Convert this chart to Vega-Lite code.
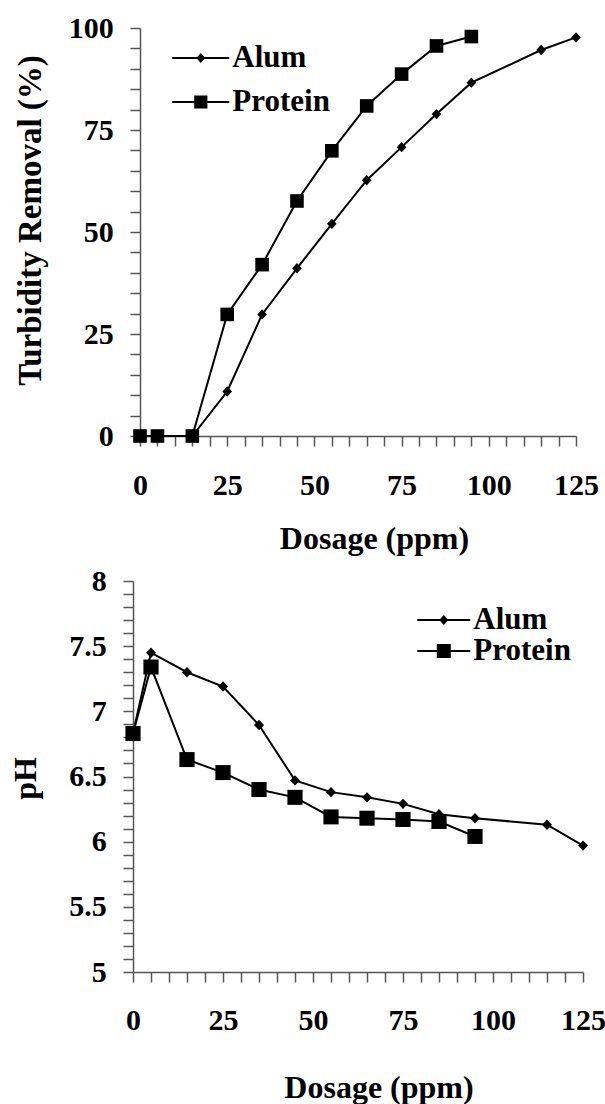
{
  "$schema": "https://vega.github.io/schema/vega-lite/v6.json",
  "background": "white",
  "padding": {"left": 9, "top": 13, "right": 5, "bottom": 5},
  "config": {
    "view": {"stroke": null},
    "font": "Liberation Serif",
    "axis": {
      "domainColor": "#555", "domainWidth": 1.5,
      "tickColor": "#555", "tickWidth": 1.5, "tickSize": 10,
      "grid": false,
      "labelFont": "Liberation Serif", "labelFontWeight": "bold", "labelFontSize": 30, "labelColor": "black",
      "labelFlush": false, "labelOverlap": false,
      "titleFont": "Liberation Serif", "titleFontWeight": "bold", "titleFontSize": 32, "titleColor": "black"
    }
  },
  "datasets": {
    "turbidity": [
      {"series": "Alum", "dosage": 0, "removal": 0},
      {"series": "Alum", "dosage": 5, "removal": 0},
      {"series": "Alum", "dosage": 15, "removal": 0},
      {"series": "Alum", "dosage": 25, "removal": 10.9},
      {"series": "Alum", "dosage": 35, "removal": 29.8},
      {"series": "Alum", "dosage": 45, "removal": 41.1},
      {"series": "Alum", "dosage": 55, "removal": 52},
      {"series": "Alum", "dosage": 65, "removal": 62.7},
      {"series": "Alum", "dosage": 75, "removal": 70.8},
      {"series": "Alum", "dosage": 85, "removal": 78.9},
      {"series": "Alum", "dosage": 95, "removal": 86.6},
      {"series": "Alum", "dosage": 115, "removal": 94.6},
      {"series": "Alum", "dosage": 125, "removal": 97.7},
      {"series": "Protein", "dosage": 0, "removal": 0},
      {"series": "Protein", "dosage": 5, "removal": 0},
      {"series": "Protein", "dosage": 15, "removal": 0},
      {"series": "Protein", "dosage": 25, "removal": 29.8},
      {"series": "Protein", "dosage": 35, "removal": 42},
      {"series": "Protein", "dosage": 45, "removal": 57.6},
      {"series": "Protein", "dosage": 55, "removal": 69.9},
      {"series": "Protein", "dosage": 65, "removal": 80.9},
      {"series": "Protein", "dosage": 75, "removal": 88.7},
      {"series": "Protein", "dosage": 85, "removal": 95.6},
      {"series": "Protein", "dosage": 95, "removal": 97.9}
    ],
    "ph": [
      {"series": "Alum", "dosage": 0, "ph": 6.83},
      {"series": "Alum", "dosage": 5, "ph": 7.45},
      {"series": "Alum", "dosage": 15, "ph": 7.30},
      {"series": "Alum", "dosage": 25, "ph": 7.19},
      {"series": "Alum", "dosage": 35, "ph": 6.895},
      {"series": "Alum", "dosage": 45, "ph": 6.47},
      {"series": "Alum", "dosage": 55, "ph": 6.38},
      {"series": "Alum", "dosage": 65, "ph": 6.34},
      {"series": "Alum", "dosage": 75, "ph": 6.29},
      {"series": "Alum", "dosage": 85, "ph": 6.21},
      {"series": "Alum", "dosage": 95, "ph": 6.18},
      {"series": "Alum", "dosage": 115, "ph": 6.13},
      {"series": "Alum", "dosage": 125, "ph": 5.97},
      {"series": "Protein", "dosage": 0, "ph": 6.83},
      {"series": "Protein", "dosage": 5, "ph": 7.34},
      {"series": "Protein", "dosage": 15, "ph": 6.63},
      {"series": "Protein", "dosage": 25, "ph": 6.53},
      {"series": "Protein", "dosage": 35, "ph": 6.40},
      {"series": "Protein", "dosage": 45, "ph": 6.34},
      {"series": "Protein", "dosage": 55, "ph": 6.19},
      {"series": "Protein", "dosage": 65, "ph": 6.18},
      {"series": "Protein", "dosage": 75, "ph": 6.17},
      {"series": "Protein", "dosage": 85, "ph": 6.155},
      {"series": "Protein", "dosage": 95, "ph": 6.04}
    ]
  },
  "spacing": 145,
  "bounds": "flush",
  "center": true,
  "resolve": {"scale": {"shape": "independent"}, "legend": {"shape": "independent"}},
  "vconcat": [
    {
      "width": 436,
      "height": 408,
      "data": {"name": "turbidity"},
      "resolve": {"scale": {"shape": "independent"}, "legend": {"shape": "independent"}},
      "encoding": {
        "x": {
          "field": "dosage", "type": "quantitative",
          "scale": {"domain": [0, 125], "nice": false},
          "axis": {
            "values": [0,5,10,15,20,25,30,35,40,45,50,55,60,65,70,75,80,85,90,95,100,105,110,115,120,125],
            "labelExpr": "datum.value % 25 === 0 ? datum.label : ''",
            "labelPadding": 39, "labelBaseline": "middle",
            "title": "Dosage (ppm)", "titleX": 234, "titleY": 112,
            "titleBaseline": "alphabetic", "titleAlign": "center"
          }
        },
        "y": {
          "field": "removal", "type": "quantitative",
          "scale": {"domain": [0, 100], "nice": false},
          "axis": {
            "values": [0,5,10,15,20,25,30,35,40,45,50,55,60,65,70,75,80,85,90,95,100],
            "labelExpr": "datum.value % 25 === 0 ? datum.label : ''",
            "labelPadding": 16.7,
            "title": "Turbidity Removal (%)", "titleFontSize": 33,
            "titleX": -99.2, "titleY": 192,
            "titleBaseline": "alphabetic", "titleAlign": "center"
          }
        }
      },
      "layer": [
        {
          "mark": {"type": "line", "color": "black", "strokeWidth": 2},
          "encoding": {"detail": {"field": "series", "type": "nominal"}}
        },
        {
          "mark": {"type": "point", "filled": true, "color": "black", "size": 400, "opacity": 1},
          "encoding": {
            "shape": {
              "field": "series", "type": "nominal",
              "scale": {
                "domain": ["Alum", "Protein"],
                "range": ["M-0.48,0L0,-0.52L0.48,0L0,0.52Z", "M-0.68,-0.68H0.68V0.68H-0.68Z"]
              },
              "legend": null
            }
          }
        },
        {
          "transform": [{"filter": "datum.dosage < 0"}],
          "mark": {"type": "point", "filled": true, "color": "black", "size": 400, "opacity": 1},
          "encoding": {
            "shape": {
              "field": "series", "type": "nominal",
              "scale": {
                "domain": ["Alum", "Protein"],
                "range": ["M-2.85,-0.1H2.85V0.1H-2.85ZM-0.45,0L0,-0.5L0.45,0L0,0.5Z", "M-2.85,-0.1H2.85V0.1H-2.85ZM-0.66,-0.66H0.66V0.66H-0.66Z"]
              },
              "legend": {
                "orient": "none", "legendX": 45.3, "legendY": 14.5,
                "title": null, "padding": 0,
                "labelFont": "Liberation Serif", "labelFontSize": 31, "labelFontWeight": "bold", "labelColor": "black",
                "labelOffset": 16, "rowPadding": 12,
                "symbolSize": 400, "symbolStrokeWidth": 0,
                "symbolFillColor": "black", "symbolOpacity": 1
              }
            }
          }
        },
        {
          "data": {"values": [{}]},
          "mark": {"type": "text", "text": "(A)", "font": "Liberation Serif", "fontSize": 30, "fontWeight": "bold", "align": "center", "baseline": "middle", "color": "black"},
          "encoding": {
            "x": {"datum": 119, "type": "quantitative"},
            "y": {"datum": 10.4, "type": "quantitative"}
          }
        }
      ]
    },
    {
      "width": 450,
      "height": 391,
      "data": {"name": "ph"},
      "resolve": {"scale": {"shape": "independent"}, "legend": {"shape": "independent"}},
      "encoding": {
        "x": {
          "field": "dosage", "type": "quantitative",
          "scale": {"domain": [0, 125], "nice": false},
          "axis": {
            "values": [0,5,10,15,20,25,30,35,40,45,50,55,60,65,70,75,80,85,90,95,100,105,110,115,120,125],
            "labelExpr": "datum.value % 25 === 0 ? datum.label : ''",
            "labelPadding": 38, "labelBaseline": "middle",
            "title": "Dosage (ppm)", "titleX": 245.5, "titleY": 125,
            "titleBaseline": "alphabetic", "titleAlign": "center"
          }
        },
        "y": {
          "field": "ph", "type": "quantitative",
          "scale": {"domain": [5, 8], "nice": false, "zero": false},
          "axis": {
            "values": [5,5.1,5.2,5.3,5.4,5.5,5.6,5.7,5.8,5.9,6,6.1,6.2,6.3,6.4,6.5,6.6,6.7,6.8,6.9,7,7.1,7.2,7.3,7.4,7.5,7.6,7.7,7.8,7.9,8],
            "format": ".1~f",
            "labelExpr": "abs(datum.value * 2 - round(datum.value * 2)) < 0.001 ? datum.label : ''",
            "labelPadding": 16.7,
            "title": "pH", "titleX": -97.7, "titleY": 197,
            "titleBaseline": "alphabetic", "titleAlign": "center"
          }
        }
      },
      "layer": [
        {
          "mark": {"type": "line", "color": "black", "strokeWidth": 2},
          "encoding": {"detail": {"field": "series", "type": "nominal"}}
        },
        {
          "mark": {"type": "point", "filled": true, "color": "black", "size": 400, "opacity": 1},
          "encoding": {
            "shape": {
              "field": "series", "type": "nominal",
              "scale": {
                "domain": ["Alum", "Protein"],
                "range": ["M-0.5,0L0,-0.52L0.5,0L0,0.52Z", "M-0.76,-0.75H0.76V0.75H-0.76Z"]
              },
              "legend": null
            }
          }
        },
        {
          "transform": [{"filter": "datum.dosage < 0"}],
          "mark": {"type": "point", "filled": true, "color": "black", "size": 400, "opacity": 1},
          "encoding": {
            "shape": {
              "field": "series", "type": "nominal",
              "scale": {
                "domain": ["Alum", "Protein"],
                "range": ["M-2.65,-0.1H2.65V0.1H-2.65ZM-0.45,0L0,-0.5L0.45,0L0,0.5Z", "M-2.65,-0.1H2.65V0.1H-2.65ZM-0.7,-0.7H0.7V0.7H-0.7Z"]
              },
              "legend": {
                "orient": "none", "legendX": 295.3, "legendY": 23.5,
                "title": null, "padding": 0,
                "labelFont": "Liberation Serif", "labelFontSize": 31, "labelFontWeight": "bold", "labelColor": "black",
                "labelOffset": 14, "rowPadding": -2,
                "symbolSize": 400, "symbolStrokeWidth": 0,
                "symbolFillColor": "black", "symbolOpacity": 1
              }
            }
          }
        },
        {
          "data": {"values": [{}]},
          "mark": {"type": "text", "text": "(B)", "font": "Liberation Serif", "fontSize": 30, "fontWeight": "bold", "align": "center", "baseline": "middle", "color": "black"},
          "encoding": {
            "x": {"datum": 119.1, "type": "quantitative"},
            "y": {"datum": 5.207, "type": "quantitative"}
          }
        }
      ]
    }
  ]
}
